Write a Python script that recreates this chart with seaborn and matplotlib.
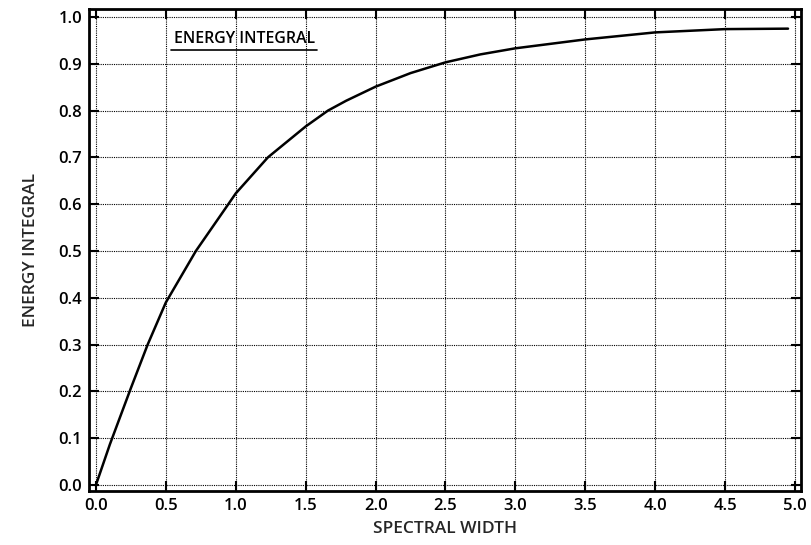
import matplotlib
matplotlib.use("Agg")
import matplotlib.pyplot as plt
import seaborn as sns
import pandas as pd

# Cumulative energy integral versus spectral width
spectral_width = [0.0, 0.1, 0.25, 0.37, 0.5, 0.715, 0.947, 1.0, 1.23, 1.5,
                  1.66, 1.79, 2.0, 2.25, 2.5, 2.75, 3.0, 3.5, 4.0, 4.5, 4.95]
energy_integral = [0.0, 0.087, 0.207, 0.3, 0.39, 0.5, 0.6, 0.623, 0.7, 0.766,
                   0.8, 0.821, 0.851, 0.88, 0.903, 0.92, 0.933, 0.952, 0.967,
                   0.974, 0.975]
x_ticks = [0.0, 0.5, 1.0, 1.5, 2.0, 2.5, 3.0, 3.5, 4.0, 4.5, 5.0]
y_ticks = [0.0, 0.1, 0.2, 0.3, 0.4, 0.5, 0.6, 0.7, 0.8, 0.9, 1.0]

df = pd.DataFrame({"width": spectral_width, "energy": energy_integral})

sns.set_style("ticks")
plt.rcParams["font.family"] = ["Open Sans", "DejaVu Sans"]
plt.rcParams["font.weight"] = 600

fig = plt.figure(figsize=(8.11, 5.45), dpi=100)
ax = fig.add_axes([0.1097, 0.0991, 0.878, 0.8844])

sns.lineplot(data=df, x="width", y="energy", ax=ax, color="black",
             linewidth=1.8, sort=False)

ax.set_xlim(-0.05, 5.043)
ax.set_ylim(-0.013, 1.017)
ax.set_xticks(x_ticks)
ax.set_yticks(y_ticks)
ax.set_xticklabels([f"{v:.1f}" for v in x_ticks], fontsize=12, fontweight=600)
ax.set_yticklabels([f"{v:.1f}" for v in y_ticks], fontsize=12, fontweight=600)

ax.grid(True, color="black", linestyle=(0, (1, 1)), linewidth=0.8)
ax.tick_params(direction="in", length=7, width=1.5, colors="black",
               top=True, right=True, pad=5)
for s in ax.spines.values():
    s.set_visible(True)
    s.set_linewidth(2)
    s.set_color("black")

ax.set_xlabel("SPECTRAL WIDTH", fontsize=12.5, fontweight=600, labelpad=5)
ax.set_ylabel("ENERGY INTEGRAL", fontsize=12.5, fontweight=600, labelpad=14)

# Underlined title inside the plot area
ax.text(1.065, 0.953, "ENERGY INTEGRAL", fontsize=11.4, fontweight=600,
        ha="center", va="center", color="black")
ax.plot([0.54, 1.58], [0.929, 0.929], color="black", linewidth=1.2)

fig.savefig("out.png", dpi=100)
